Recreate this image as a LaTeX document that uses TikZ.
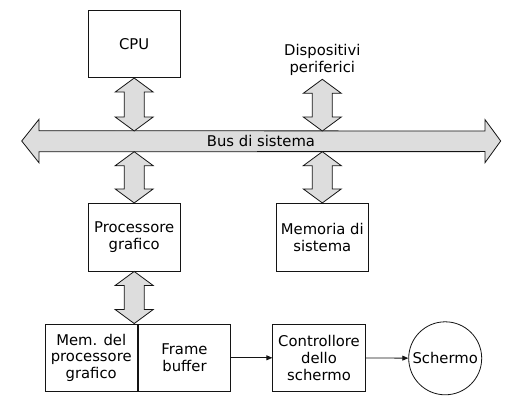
\documentclass[tikz,border=0pt]{standalone}
\usepackage{fontspec}
\setmainfont{DejaVu Sans}
\usetikzlibrary{
    arrows.meta,
    positioning,
    calc
}
\definecolor{busFill}{RGB}{221, 221, 221}
\definecolor{lineBlack}{RGB}{20, 20, 20}
\tikzset{
    label/.style={
        font=\fontsize{14.8}{16.7}\selectfont,
        align=center,
        inner sep=1pt
    },
    block/.style={
        label,
        rectangle,
        draw=lineBlack,
        line width=0.8pt,
        fill=white,
        minimum width=92.5pt,
        minimum height=67.7pt
    },
    screen/.style={
        label,
        circle,
        draw=lineBlack,
        line width=0.8pt,
        minimum size=73pt
    },
    busArrow/.style={
        draw=lineBlack,
        line width=0.8pt,
        fill=busFill,
        line join=miter
    },
    signal/.style={
        draw=lineBlack,
        line width=0.8pt,
        -{Triangle[length=6pt, width=5pt]}
    }
}
% fat two-way arrow, from a top point down to a bottom point
\newcommand{\busLink}[2]{%
    \draw[busArrow] (#1) -- ++(-19,14) -- ++(9,0) -- ($(#2)+(-10,-14)$) -- ++(-9,0)
        -- (#2) -- ++(19,-14) -- ++(-9,0) -- ($(#1)+(10,14)$) -- ++(9,0) -- cycle;
}

\begin{document}
\begin{tikzpicture}[x=1pt, y=-1pt]
    \useasboundingbox (0,0) rectangle (522,406);

    % Bus di sistema
    \coordinate (busW) at (21.7,141);
    \coordinate (busE) at (500.7,141);
    \coordinate (busTop) at (0,131);
    \coordinate (busBot) at (0,151.7);
    \draw[busArrow] (busW) -- ++(17.3,-21.7) -- ++(0,11.4) -- ($(busE)+(-15.7,-10)$)
        -- ++(0,-11.4) -- (busE) -- ++(-15.7,21.7) -- ++(0,-11.1)
        -- ($(busW)+(17.3,10.7)$) -- ++(0,11.1) -- cycle;
    \node[label] (bus) at (261,141) {Bus di sistema};

    % Units on the bus
    \node[block] (cpu) at (134.2,43.8) {CPU};
    \node[label] (periph) at (322.3,60) {Dispositivi\\periferici};
    \node[block] (gpu) at (134.2,237.2) {Processore\\grafico};
    \node[block] (sysmem) at (322.3,237.2) {Memoria di\\sistema};

    % Video chain
    \node[block] (gpumem) at (91.2,357.8) {Mem. del\\processore\\grafico};
    \node[block, right=0pt of gpumem] (frame) {Frame\\buffer};
    \node[block] (ctrl) at (319,357.8) {Controllore\\dello\\schermo};
    \node[screen] (scr) at (445.2,358.3) {Schermo};

    % Connections
    \busLink{cpu.south}{cpu.south |- busTop}
    \busLink{periph.south |- 0,79.3}{periph.south |- busTop}
    \busLink{gpu.north |- busBot}{gpu.north}
    \busLink{sysmem.north |- busBot}{sysmem.north}
    \busLink{gpu.south}{gpu.south |- gpumem.north}

    \draw[signal] (frame) -- (ctrl);
    \draw[signal] (ctrl) -- (scr);
\end{tikzpicture}
\end{document}
